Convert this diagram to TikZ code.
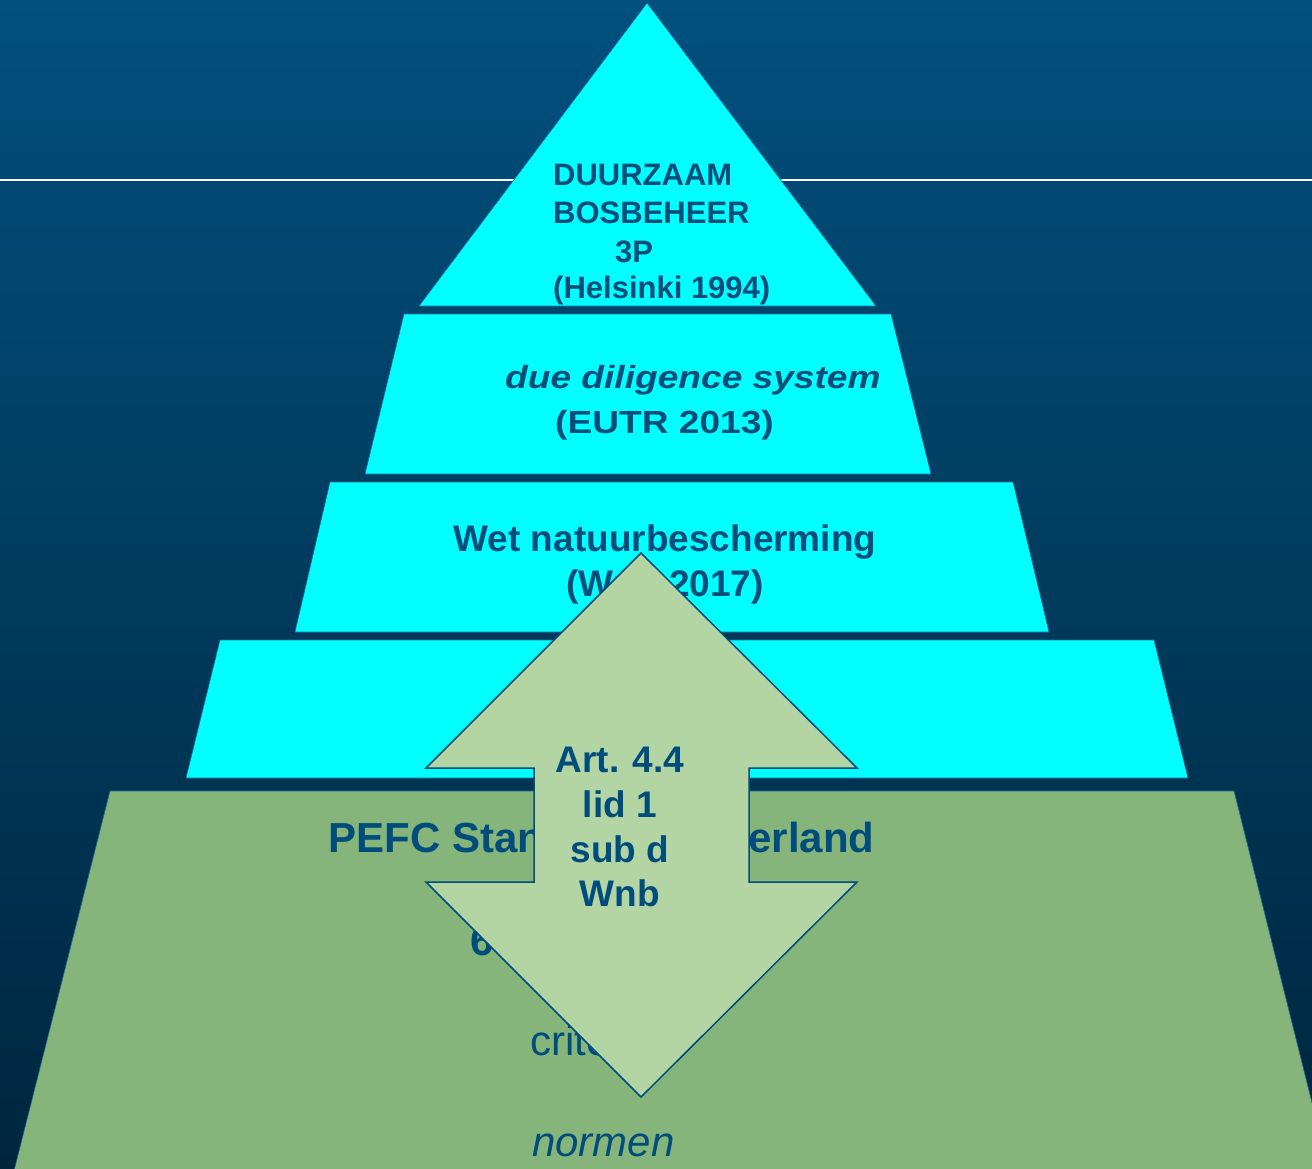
\documentclass[tikz,border=0pt]{standalone}
\usepackage{fontspec}
\setmainfont{Liberation Sans}
\newfontfamily\widesans[FakeStretch=1.16]{Liberation Sans}
\definecolor{bgtop}{RGB}{1,80,126}
\definecolor{bgmid}{RGB}{0,71,112}
\definecolor{bgbot}{RGB}{0,38,62}
\definecolor{layercyan}{RGB}{0,255,255}
\definecolor{layergreen}{RGB}{133,181,122}
\definecolor{arrowgreen}{RGB}{179,213,163}
\definecolor{textblue}{RGB}{0,76,122}
\definecolor{edgeblue}{RGB}{28,104,152}
\tikzset{
	cyanlayer/.style={fill=layercyan, draw=edgeblue, line width=0.6pt},
	greenlayer/.style={fill=layergreen, draw=edgeblue, line width=0.6pt},
	arrowbody/.style={fill=arrowgreen, draw=textblue, line width=1.5pt, line join=miter},
	txt/.style={text=textblue, inner sep=0pt, anchor=base west, font=\bfseries\fontsize{#1}{#1}\selectfont},
}
\begin{document}
\begin{tikzpicture}[x=1pt,y=-1pt]
			\useasboundingbox (0,0) rectangle (1312,1168);
			\clip (0,0) rectangle (1312,1168);
			\shade[top color=bgtop, middle color=bgmid, bottom color=bgbot] (0,0) rectangle (1312,1168);
			\draw[white, line width=2pt] (0,180) -- (1312,180);
			% piramide
			\path[cyanlayer] (647,3) -- (876,306) -- (419,306) -- cycle;
			\path[cyanlayer] (404,314) -- (891,314) -- (931,474) -- (365,474) -- cycle;
			\path[cyanlayer] (330,482) -- (1013,482) -- (1049,632) -- (295,632) -- cycle;
			\path[cyanlayer] (220,640) -- (1154,640) -- (1188,778) -- (186,778) -- cycle;
			\path[greenlayer] (110,791) -- (1234,791) -- (1330,1175) -- (13,1175) -- cycle;
			\foreach\txt/\x/\y [count=\i] in {DUURZAAM/553/185,BOSBEHEER/553/223,3P/615/262,(Helsinki 1994)/553/298}{
				\node[txt=31] (top\i) at (\x,\y){\txt};
			}
			\node[txt=32] (dds) at (505,388){\widesans\itshape due diligence system};
			\node[txt=32] (eutr) at (555,433){\widesans (EUTR 2013)};
			\node[txt=37, anchor=base] (wnb) at (665,551){Wet natuurbescherming};
			\node[txt=37, anchor=base] (wnbyear) at (665,596){(Wnb 2017)};
			\node[txt=42, anchor=base] (pefc) at (601.5,852){PEFC Standaard Nederland};
			\node[txt=42] (princ) at (470,955){6 principes};
			\node[txt=42] (crit) at (530,1055){\mdseries criteria};
			\node[txt=42] (norm) at (532,1156){\mdseries\itshape normen};
%			\node[txt=37, anchor=base] (wet) at (687,720){};
			\draw[arrowbody] (641,553) -- (857,768) -- (749,768) -- (749,882) -- (857,882) -- (641,1097)
				-- (426,882) -- (534,882) -- (534,768) -- (426,768) -- cycle;
			\foreach\txt/\y [count=\i] in {Art. 4.4/772,lid 1/817,sub d/862,Wnb/906}{
				\node[txt=37, anchor=base] (art\i) at (620,\y){\txt};
			}
		\end{tikzpicture}
\end{document}
